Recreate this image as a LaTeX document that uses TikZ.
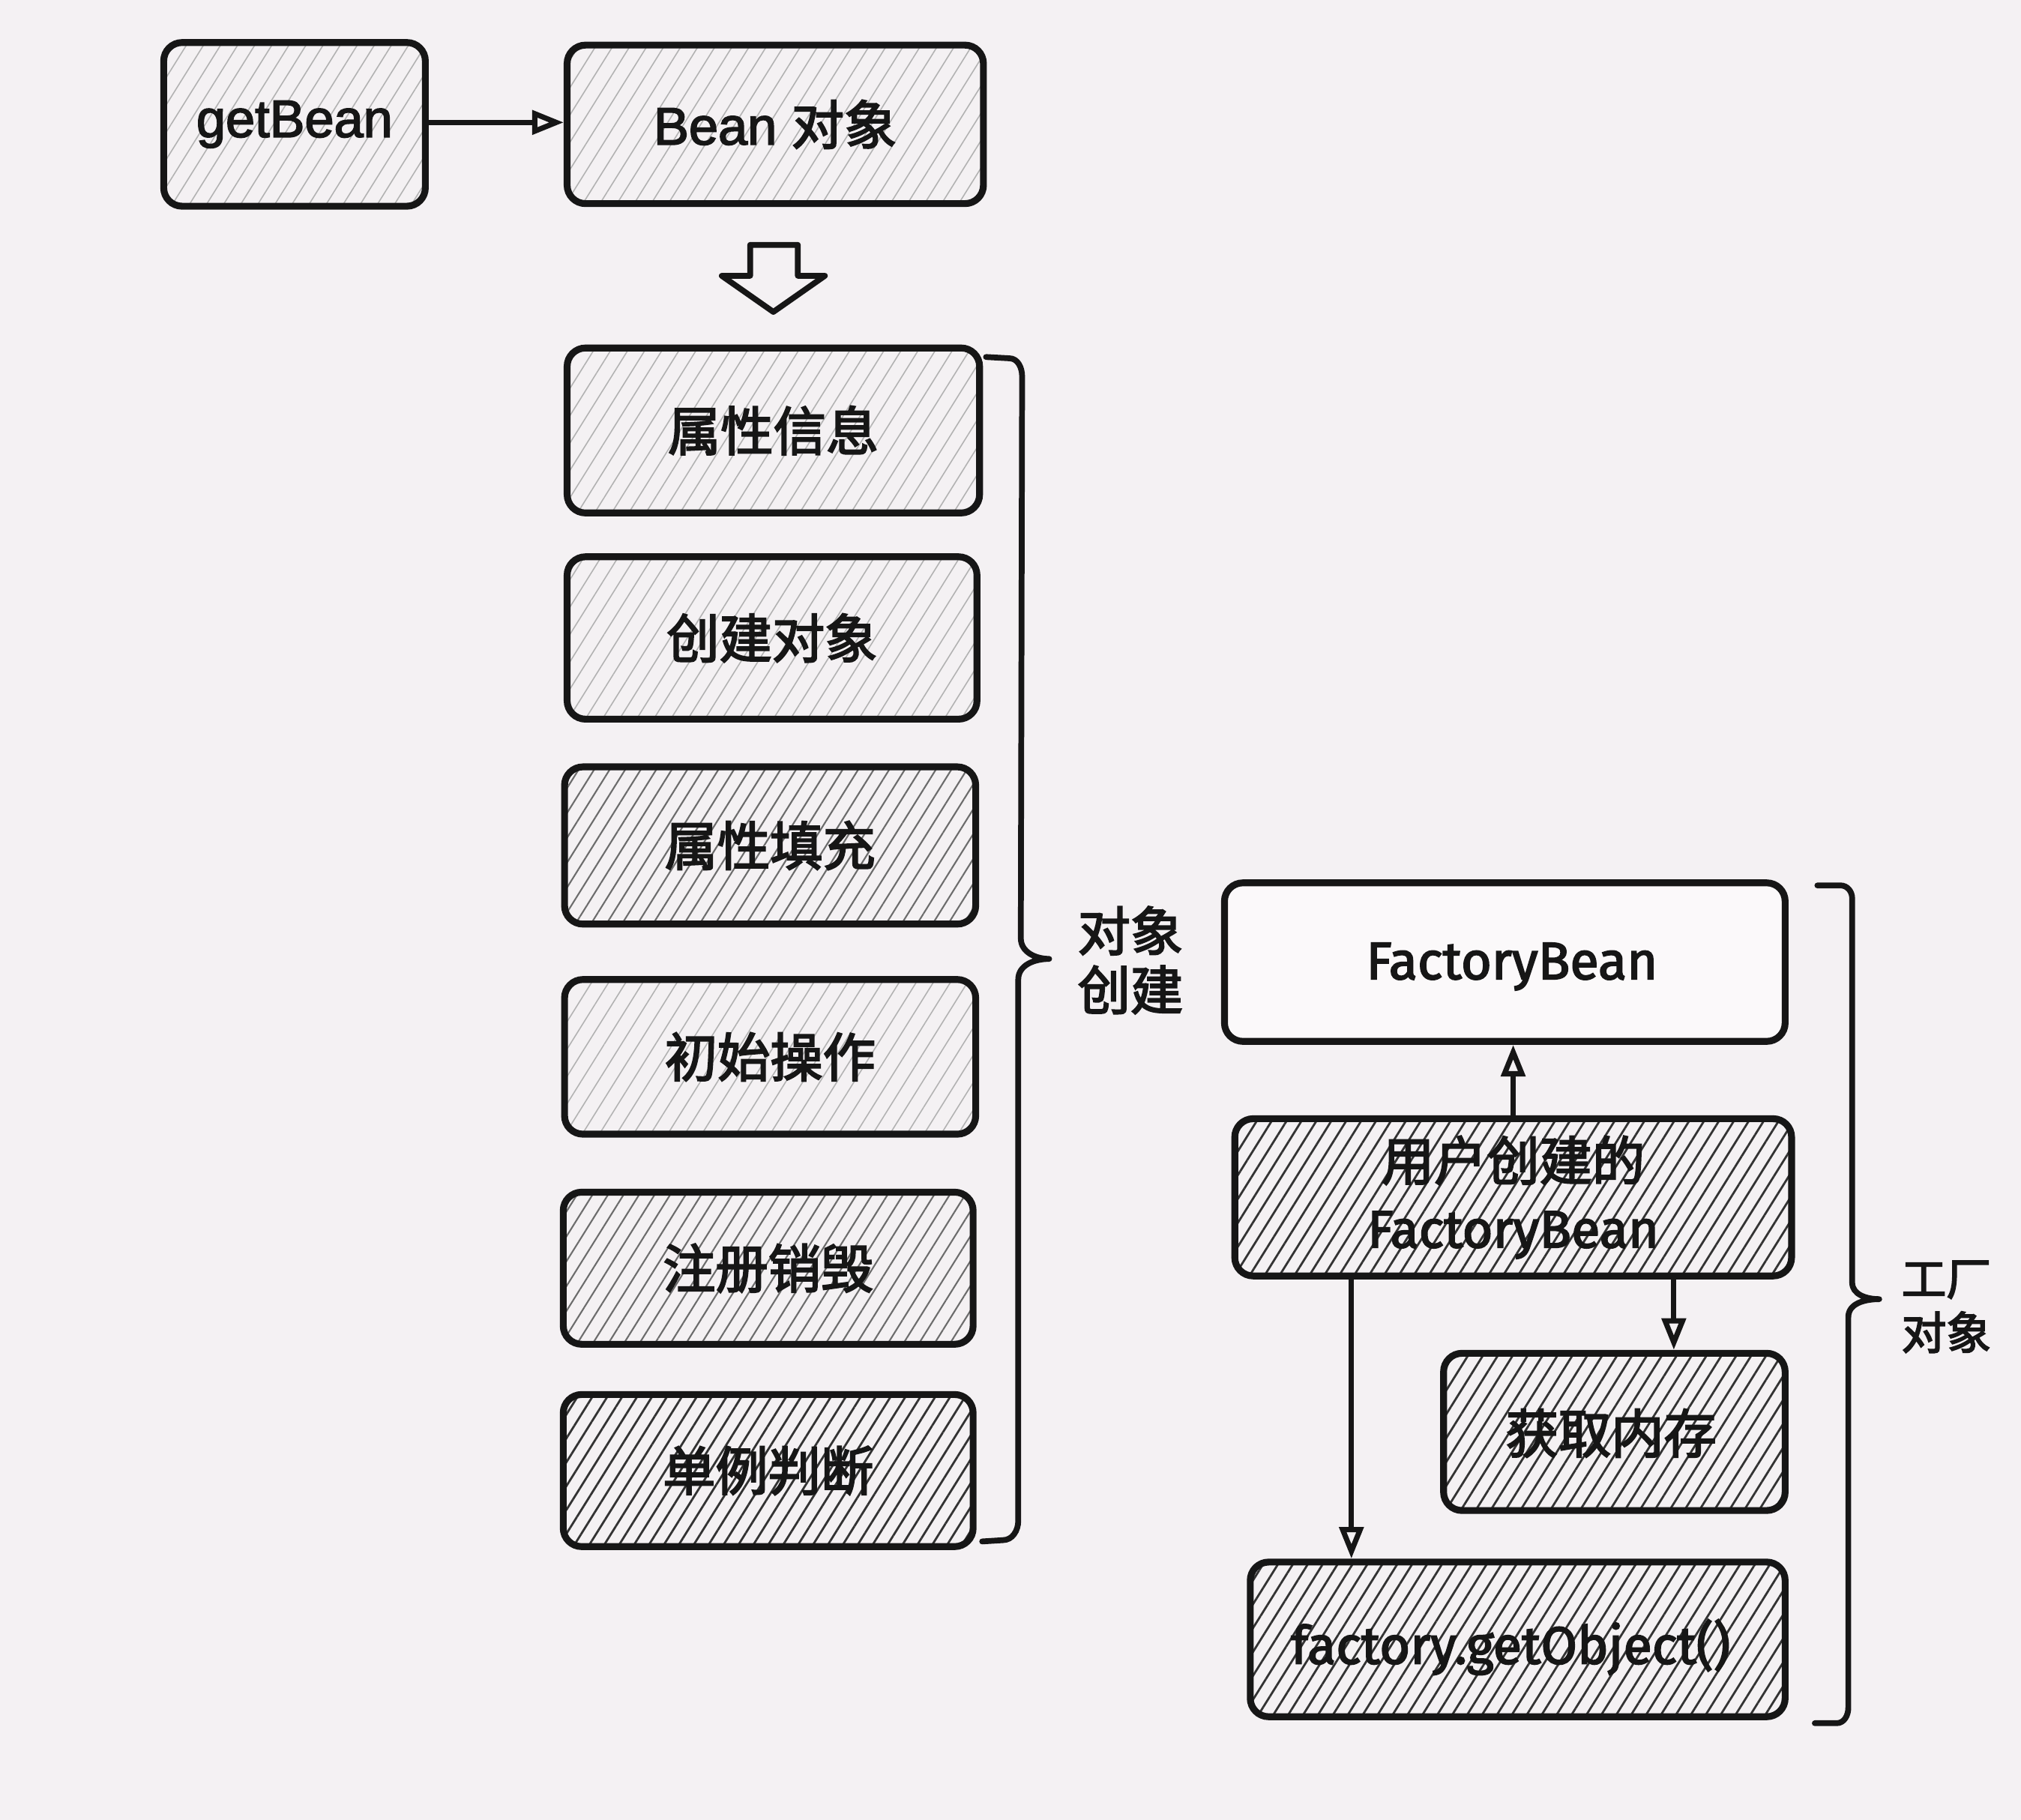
\documentclass[tikz,border=0pt]{standalone}
\usepackage{fontspec}
\setmainfont{Liberation Sans}[FakeBold=2.5]
\newfontfamily\cjk{Noto Sans CJK SC}[FakeBold=3]
\newfontfamily\comicf{Fira Sans}[FakeBold=2.5]
\usetikzlibrary{arrows.meta,patterns.meta,fit,calc}
\definecolor{paper}{RGB}{244,241,243}
\definecolor{ink}{RGB}{22,22,22}
\begin{document}
\begin{tikzpicture}[x=0.017194cm,y=-0.017194cm,
  box/.style={draw=ink, line width=2.6pt, rounded corners=7pt, inner sep=0pt},
  txt/.style={inner sep=0pt, text=ink, font=\fontsize{20}{24}\selectfont, align=center},
  light/.style={pattern={Lines[angle=58,distance=5.5pt,line width=0.45pt]}, pattern color=gray!60},
  medium/.style={pattern={Lines[angle=58,distance=5pt,line width=0.6pt]}, pattern color=gray!85!black},
  dense/.style={pattern={Lines[angle=58,distance=4.8pt,line width=0.8pt]}, pattern color=black!80},
  arr/.style={draw=ink, line width=2pt, -{Triangle[open,length=12pt,width=9pt,line width=2pt]}},
  brace/.style={draw=ink, line width=2.2pt, line cap=round, line join=round},
  lab/.style={font=\cjk\fontsize{20}{22.4}\selectfont, align=center, inner sep=0pt, text=ink},
  labsm/.style={font=\cjk\fontsize{17}{20.5}\selectfont, align=center, inner sep=0pt, text=ink},
  ctxt/.style={txt, font=\cjk\fontsize{20}{24}\selectfont},
  ftxt/.style={txt, font=\comicf\fontsize{20}{24}\selectfont},
]
\fill[paper] (0,0) rectangle (1568,1412);
\useasboundingbox (0,0) rectangle (1568,1412);

% top row
\node[box, light, fit={(127,33) (330,160)}] (getb) {};
\node[txt] (getbt) at (getb.center) {getBean};
\node[box, light, fit={(440,35) (763,158)}] (beano) {};
\node[txt] (beanot) at (beano.center) {Bean {\cjk 对象}};
\draw[arr] (getb.east |- 0,95) -- (beano.west |- 0,95);

% hollow block arrow
\draw[ink, line width=2.2pt, line join=round, fill=paper]
  (582,190) -- (619,190) -- (619,214) -- (640,214) -- (600,242) -- (560,214) -- (582,214) -- cycle;

% left stack
\node[box, light,  fit={(440,270) (760,398)}]  (s1) {};
\node[box, light,  fit={(440,432) (758,558)}]  (s2) {};
\node[box, medium, fit={(438,595) (757,717)}]  (s3) {};
\node[box, light,  fit={(438,760) (757,880)}]  (s4) {};
\node[box, medium, fit={(437,925) (755,1043)}] (s5) {};
\node[box, dense,  fit={(437,1082) (755,1200)}] (s6) {};
\node[ctxt] (s1t) at (s1.center) {属性信息};
\node[ctxt] (s2t) at (s2.center) {创建对象};
\node[ctxt] (s3t) at (s3.center) {属性填充};
\node[ctxt] (s4t) at (s4.center) {初始操作};
\node[ctxt] (s5t) at (s5.center) {注册销毁};
\node[ctxt] (s6t) at (s6.center) {单例判断};

% left brace
\draw[brace] (765,277) -- (783,278) to[out=0,in=90] (793,292) -- (792,728)
  to[out=-90,in=180] (814,744) to[out=180,in=90] (790,760) -- (790,1180)
  to[out=-90,in=0] (778,1195) -- (762,1196);
\node[lab] (lblobj) at (877,745) {对象\\创建};

% right column
\node[box, fill=white!60!paper, fit={(950,685) (1385,808)}] (fb) {};
\node[box, dense, fit={(958,868) (1390,990)}] (ufb) {};
\node[box, dense, fit={(1120,1050) (1385,1172)}] (mem) {};
\node[box, dense, fit={(970,1212) (1385,1332)}] (gob) {};
\node[ftxt] (fbt) at (1173,750) {FactoryBean};
\node[txt, font=\fontsize{20}{25.5}\selectfont] (ufbt) at (ufb.center) {{\cjk 用户创建的}\\{\comicf FactoryBean}};
\node[ctxt] (memt) at (1250,1112) {获取内存};
\node[ftxt] (gobt) at (1172,1278) {factory.getObject()};

\draw[arr] (ufb.north) -- (ufb.north |- fb.south);
\draw[arr] ($(ufb.south west)!0.213!(ufb.south east)$) coordinate (a1) -- (a1 |- gob.north);
\draw[arr] ($(ufb.south west)!0.785!(ufb.south east)$) coordinate (a2) -- (a2 |- mem.north);

% right brace
\draw[brace] (1410,687) -- (1428,687) to[out=0,in=90] (1437,697) -- (1437,995)
  to[out=-90,in=180] (1458,1008) to[out=180,in=90] (1434,1022) -- (1434,1325)
  to[out=-90,in=0] (1425,1337) -- (1408,1337);
\node[labsm] (lblfac) at (1510,1014) {工厂\\对象};
\end{tikzpicture}
\end{document}
